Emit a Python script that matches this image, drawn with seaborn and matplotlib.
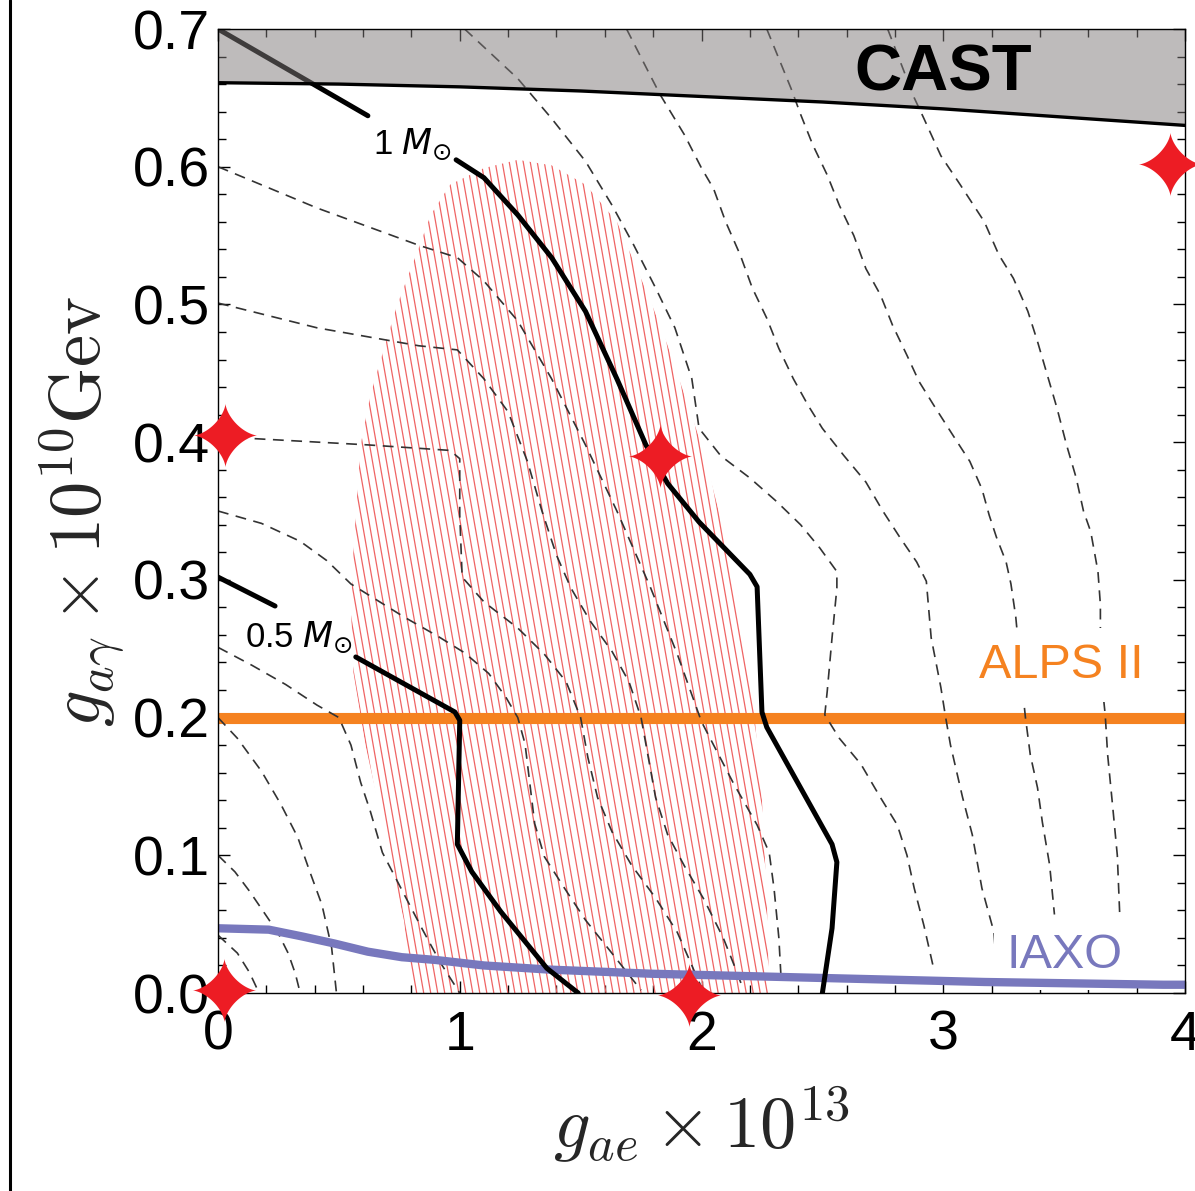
import numpy as np
import pandas as pd
import matplotlib
matplotlib.use("Agg")
import matplotlib.pyplot as plt
import seaborn as sns
from matplotlib.path import Path
from matplotlib.patches import Polygon
from matplotlib.collections import LineCollection
from matplotlib.lines import Line2D
from matplotlib.ticker import MultipleLocator, FormatStrFormatter

# ---------------- data ----------------
cast_x = [0.0, 0.5, 1.0, 1.5, 2.0, 2.5, 3.0, 3.5, 4.0]
cast_y = [0.661, 0.660, 0.658, 0.655, 0.651, 0.647, 0.642, 0.636, 0.630]

iaxo_x = [0.0, 0.21, 0.35, 0.48, 0.62, 0.76, 0.90, 1.10, 1.37, 1.79, 2.48, 3.17, 3.91, 4.0]
iaxo_y = [0.047, 0.046, 0.041, 0.036, 0.030, 0.026, 0.024, 0.020, 0.017, 0.014, 0.011, 0.008, 0.006, 0.006]

alps_y = 0.2

# 1 M_sun contour (thick), upper piece and main piece
m1_top_x = [0.0, 0.62]
m1_top_y = [0.700, 0.637]
m1_x = [0.985, 1.10, 1.24, 1.38, 1.52, 1.65, 1.77, 1.86, 1.99, 2.20, 2.23, 2.25, 2.27, 2.54, 2.56, 2.54, 2.50]
m1_y = [0.605, 0.592, 0.565, 0.534, 0.495, 0.446, 0.398, 0.370, 0.342, 0.304, 0.295, 0.204, 0.193, 0.108, 0.095, 0.047, 0.0]

# 0.5 M_sun contour (thick)
m05_top_x = [0.0, 0.236]
m05_top_y = [0.302, 0.281]
m05_x = [0.57, 0.98, 1.0, 0.99, 1.05, 1.17, 1.36, 1.49]
m05_y = [0.244, 0.204, 0.198, 0.108, 0.088, 0.059, 0.018, 0.0]

# dashed contours starting on the left edge
d1_x = [0.0, 0.41, 0.83, 0.99, 1.10, 1.24, 1.38, 1.52, 1.65, 1.79, 1.90, 2.0, 2.13, 2.23, 2.28, 2.30, 2.32, 2.33]
d1_y = [0.600, 0.570, 0.543, 0.534, 0.517, 0.488, 0.446, 0.398, 0.350, 0.294, 0.246, 0.197, 0.153, 0.122, 0.102, 0.076, 0.040, 0.008]
d2_x = [0.0, 0.41, 0.83, 0.99, 1.10, 1.20, 1.28, 1.34, 1.40, 1.46, 1.54, 1.63, 1.70, 1.75, 1.78, 1.81, 1.86, 1.93, 2.01, 2.09, 2.14, 2.17]
d2_y = [0.501, 0.483, 0.470, 0.467, 0.446, 0.422, 0.386, 0.350, 0.318, 0.294, 0.270, 0.248, 0.226, 0.200, 0.171, 0.142, 0.115, 0.092, 0.068, 0.040, 0.018, 0.004]
d3_x = [0.0, 0.62, 0.96, 1.0, 1.0, 1.01, 1.10, 1.24, 1.35, 1.44, 1.50, 1.53, 1.57, 1.63, 1.71, 1.81, 1.90, 2.0]
d3_y = [0.404, 0.398, 0.394, 0.388, 0.347, 0.302, 0.284, 0.265, 0.246, 0.226, 0.200, 0.171, 0.142, 0.117, 0.093, 0.069, 0.044, 0.004]
d4_x = [0.0, 0.18, 0.34, 0.45, 0.55, 0.66, 0.77, 0.91, 1.02, 1.12, 1.19, 1.24, 1.27, 1.29, 1.31, 1.35, 1.43, 1.52, 1.62, 1.75]
d4_y = [0.350, 0.341, 0.328, 0.314, 0.297, 0.285, 0.273, 0.259, 0.247, 0.232, 0.215, 0.200, 0.181, 0.152, 0.123, 0.099, 0.077, 0.053, 0.031, 0.002]
d5_x = [0.0, 0.14, 0.28, 0.41, 0.50, 0.55, 0.59, 0.63, 0.68, 0.76, 0.84, 0.92, 1.0]
d5_y = [0.251, 0.238, 0.224, 0.209, 0.200, 0.180, 0.153, 0.132, 0.102, 0.075, 0.048, 0.022, 0.0]
d6_x = [0.0, 0.08, 0.18, 0.26, 0.33, 0.38, 0.43, 0.47, 0.49]
d6_y = [0.200, 0.185, 0.161, 0.137, 0.113, 0.088, 0.064, 0.033, 0.0]
d7_x = [0.0, 0.07, 0.13, 0.20, 0.25, 0.29, 0.32, 0.34]
d7_y = [0.100, 0.088, 0.074, 0.056, 0.043, 0.029, 0.014, 0.0]
d8_x = [0.0, 0.08, 0.13, 0.17]
d8_y = [0.042, 0.029, 0.015, 0.0]

# dashed contours starting on the top edge
t1_x = [1.02, 1.24, 1.38, 1.52, 1.63, 1.72, 1.81, 1.89, 1.96, 1.99, 2.08, 2.20, 2.31, 2.41, 2.49, 2.56, 2.56,
        2.54, 2.52, 2.51, 2.57, 2.66, 2.74, 2.81, 2.85, 2.88, 2.92, 2.96]
t1_y = [0.700, 0.664, 0.635, 0.604, 0.572, 0.543, 0.512, 0.483, 0.446, 0.410, 0.390, 0.374, 0.357, 0.340, 0.323, 0.306, 0.294,
        0.258, 0.219, 0.202, 0.185, 0.166, 0.142, 0.122, 0.100, 0.076, 0.049, 0.018]
t2_x = [1.69, 1.78, 1.83, 1.93, 2.0, 2.05, 2.10, 2.16, 2.21, 2.27, 2.32, 2.38, 2.44, 2.50, 2.59, 2.68, 2.75, 2.82,
        2.89, 2.93, 2.95, 2.99, 3.01, 3.03, 3.08, 3.12, 3.16, 3.21, 3.22]
t2_y = [0.700, 0.669, 0.652, 0.623, 0.599, 0.584, 0.560, 0.536, 0.512, 0.490, 0.468, 0.446, 0.427, 0.410, 0.390, 0.371, 0.350, 0.331,
        0.313, 0.299, 0.258, 0.222, 0.200, 0.180, 0.142, 0.115, 0.076, 0.044, 0.018]
t3_x = [2.27, 2.37, 2.41, 2.46, 2.52, 2.57, 2.63, 2.68, 2.74, 2.79, 2.85, 2.90, 2.96, 3.04, 3.11, 3.16, 3.19, 3.22,
        3.26, 3.28, 3.30, 3.33, 3.34, 3.36, 3.39, 3.41, 3.44, 3.46]
t3_y = [0.700, 0.657, 0.638, 0.616, 0.594, 0.572, 0.550, 0.526, 0.507, 0.485, 0.463, 0.444, 0.427, 0.405, 0.386, 0.366, 0.347, 0.331,
        0.313, 0.297, 0.273, 0.217, 0.200, 0.173, 0.149, 0.124, 0.093, 0.057]
t4_x = [2.77, 2.88, 2.92, 2.99, 3.07, 3.17, 3.23, 3.29, 3.35, 3.39, 3.43, 3.47, 3.51, 3.55, 3.58, 3.61, 3.64, 3.65,
        3.65, 3.66, 3.67, 3.68, 3.70, 3.72, 3.73]
t4_y = [0.700, 0.650, 0.635, 0.608, 0.587, 0.560, 0.536, 0.519, 0.495, 0.473, 0.449, 0.425, 0.398, 0.374, 0.350, 0.335, 0.306, 0.282,
        0.262, 0.219, 0.202, 0.173, 0.137, 0.100, 0.057]

# hatched (red) region outline
hatch_x = [1.24, 1.38, 1.52, 1.65, 1.72, 1.79, 1.86, 1.93, 2.0, 2.08, 2.15, 2.21, 2.25, 2.27, 2.28,
           0.80, 0.77, 0.69, 0.61, 0.56, 0.55, 0.56, 0.57, 0.59, 0.63, 0.69, 0.74, 0.83, 0.88, 0.96, 1.10]
hatch_y = [0.605, 0.601, 0.587, 0.560, 0.531, 0.502, 0.470, 0.434, 0.398, 0.344, 0.290, 0.220, 0.140, 0.070, 0.0,
           0.0, 0.052, 0.117, 0.180, 0.233, 0.280, 0.320, 0.347, 0.398, 0.434, 0.470, 0.499, 0.541, 0.565, 0.587, 0.599]

# red star markers
star_x = [0.025, 1.95, 3.94, 0.03, 1.83]
star_y = [0.002, -0.0015, 0.602, 0.405, 0.390]

x_ticks = [0, 1, 2, 3, 4]
y_ticks = [0.0, 0.1, 0.2, 0.3, 0.4, 0.5, 0.6, 0.7]

# ---------------- style ----------------
sns.set_theme(style="ticks")
plt.rcParams["font.family"] = ["Liberation Sans", "DejaVu Sans"]
plt.rcParams["mathtext.fontset"] = "cm"
plt.rcParams["axes.edgecolor"] = "black"
plt.rcParams["xtick.color"] = "black"
plt.rcParams["ytick.color"] = "black"

fig = plt.figure(figsize=(11.95, 11.91), dpi=100)
fig.patch.set_facecolor("white")
ax = fig.add_axes([218 / 1195, 198 / 1191, 967 / 1195, 964 / 1191])
ax.set_facecolor("white")

# hatched region: thin steep red lines clipped to the outline
poly = Polygon(np.column_stack([hatch_x, hatch_y]), closed=True, facecolor="none",
               edgecolor="none", transform=ax.transData)
ax.add_patch(poly)
spacing = 0.029
shift = 0.70
segs = [[(x0, 0.72), (x0 + shift * 0.72 / 0.70, 0.0)] for x0 in np.arange(-1.0, 4.0, spacing)]
lc = LineCollection(segs, colors="#ef6464", linewidths=0.9, zorder=1)
lc.set_clip_path(poly)
ax.add_collection(lc)

# ALPS II line
ax.axhline(alps_y, color="#f58220", lw=8, zorder=2, solid_capstyle="butt")

# dashed contours
dashed = {"d1": (d1_x, d1_y), "d2": (d2_x, d2_y), "d3": (d3_x, d3_y), "d4": (d4_x, d4_y),
          "d5": (d5_x, d5_y), "d6": (d6_x, d6_y), "d7": (d7_x, d7_y), "d8": (d8_x, d8_y),
          "t1": (t1_x, t1_y), "t2": (t2_x, t2_y), "t3": (t3_x, t3_y), "t4": (t4_x, t4_y)}
rows = []
for name, (xs, ys) in dashed.items():
    for i, (xv, yv) in enumerate(zip(xs, ys)):
        rows.append({"curve": name, "order": i, "x": xv, "y": yv})
df = pd.DataFrame(rows)
n0 = len(ax.lines)
sns.lineplot(data=df, x="x", y="y", units="curve", estimator=None, sort=False,
             color="#333333", lw=1.2, ax=ax, legend=False, zorder=3)
for ln in ax.lines[n0:]:
    ln.set_dashes((6.5, 4.5))

# IAXO line
sns.lineplot(x=iaxo_x, y=iaxo_y, sort=False, estimator=None, color="#7878bd", lw=6,
             ax=ax, zorder=5, legend=False)

# thick mass contours
for xs, ys in [(m1_top_x, m1_top_y), (m1_x, m1_y), (m05_top_x, m05_top_y), (m05_x, m05_y)]:
    sns.lineplot(x=xs, y=ys, sort=False, estimator=None, color="black", lw=3.6,
                 ax=ax, zorder=6, legend=False)

# CAST excluded band
ax.fill_between(cast_x, cast_y, 0.7, color="#7f7979", alpha=0.5, lw=0, zorder=7)
sns.lineplot(x=cast_x, y=cast_y, sort=False, estimator=None, color="black", lw=2.4,
             ax=ax, zorder=8, legend=False)

# labels in the plot
ax.text(3.0, 0.655, "CAST", ha="center", va="baseline", fontsize=47, fontweight="bold",
        color="black", zorder=9)
ax.text(3.49, 0.229, "ALPS II", ha="center", va="baseline", fontsize=35, color="#f58220",
        zorder=4, bbox=dict(boxstyle="square,pad=0.3", fc="white", ec="none"))
ax.text(3.50, 0.018, "IAXO", ha="center", va="baseline", fontsize=35, color="#7878bd",
        zorder=4, bbox=dict(boxstyle="square,pad=0.25", fc="white", ec="none"))
ax.text(0.97, 0.609, r"1 $M_{\odot}$", ha="right", va="baseline", fontsize=25,
        math_fontfamily="dejavusans", color="black", zorder=9)
ax.text(0.56, 0.2515, r"0.5 $M_{\odot}$", ha="right", va="baseline", fontsize=25,
        math_fontfamily="dejavusans", color="black", zorder=9)

# red four-point stars (concave astroid-like outline)
t = np.linspace(0, 2 * np.pi, 240)
c, s = np.cos(t), np.sin(t)
star_verts = np.column_stack([np.sign(c) * np.abs(c) ** 3.0, np.sign(s) * np.abs(s) ** 3.0])
star = Path(star_verts, closed=True)
ax.scatter(star_x, star_y, marker=star, s=2100, color="#ed1c24", linewidths=0,
           zorder=20, clip_on=False)

# axes
ax.set_xlim(0, 4)
ax.set_ylim(0, 0.7)
ax.set_xticks(x_ticks)
ax.set_yticks(y_ticks)
ax.xaxis.set_minor_locator(MultipleLocator(0.2))
ax.yaxis.set_minor_locator(MultipleLocator(0.02))
ax.yaxis.set_major_formatter(FormatStrFormatter("%.1f"))
ax.tick_params(which="both", direction="in", top=True, right=True, width=1.0)
ax.tick_params(which="major", length=8.5, labelsize=40)
ax.tick_params(axis="x", which="major", pad=12)
ax.tick_params(axis="y", which="major", pad=6)
ax.tick_params(which="minor", length=5.5)
for sp in ax.spines.values():
    sp.set_linewidth(1.0)
    sp.set_color("black")
    sp.set_zorder(10)

ax.set_xlabel(r"$g_{ae}\times 10^{13}$", fontsize=52, labelpad=16)
ax.set_ylabel(r"$g_{a\gamma}\times 10^{10}\mathrm{Gev}$", fontsize=52, labelpad=4)

# left border line of the figure
fig.add_artist(Line2D([10 / 1195, 10 / 1195], [0, 1], transform=fig.transFigure,
                      color="black", lw=2.2))

fig.savefig("out.png", dpi=100, facecolor="white")
